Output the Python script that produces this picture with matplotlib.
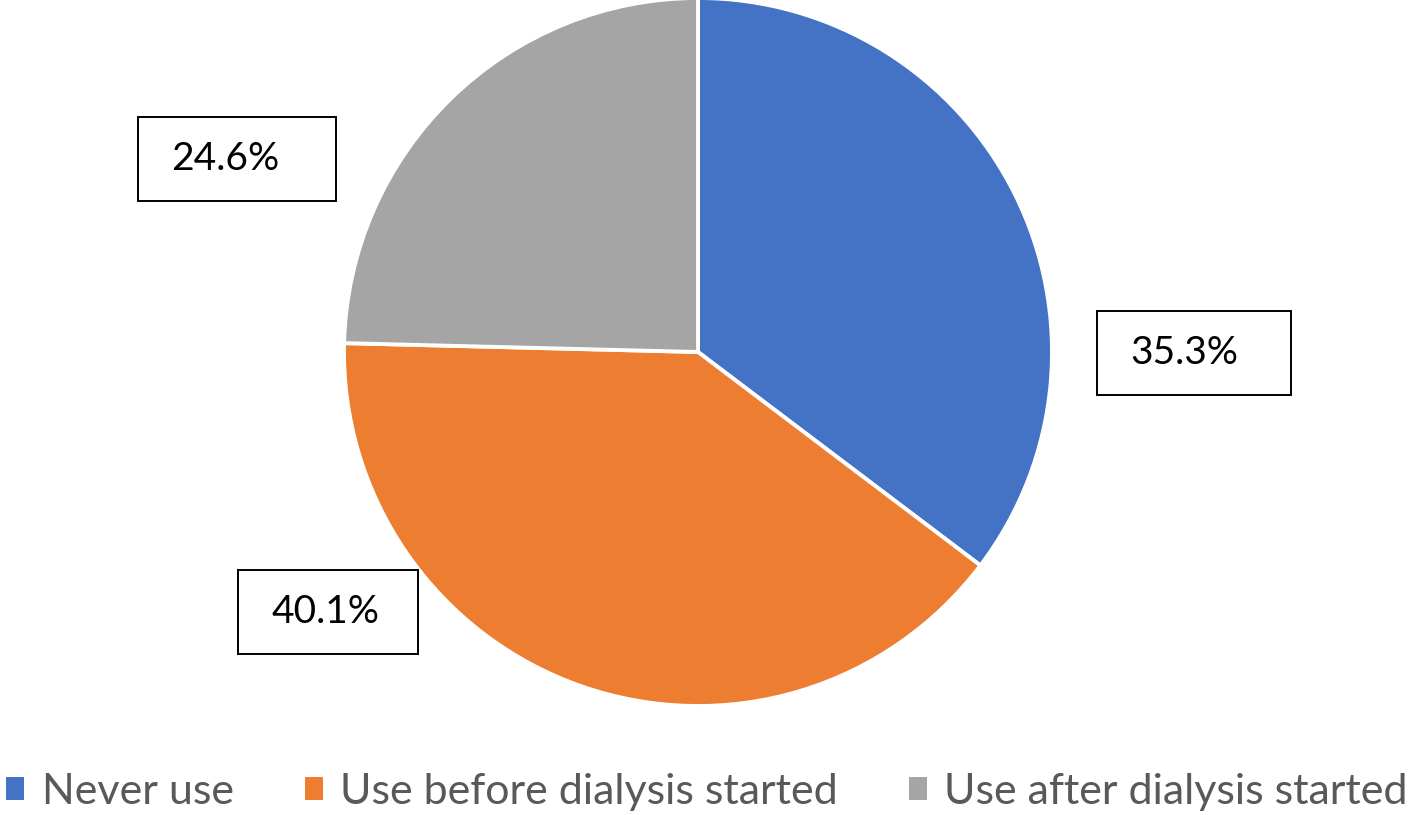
import matplotlib
matplotlib.use("Agg")
import matplotlib.pyplot as plt
from matplotlib.patches import Rectangle

categories = ["Never use", "Use before dialysis started", "Use after dialysis started"]
shares = [35.3, 40.1, 24.6]
colors = ["#4472C4", "#ED7D31", "#A5A5A5"]
label_texts = ["35.3%", "40.1%", "24.6%"]
# box (left, top, width, height) in image pixels
label_boxes = [(1097, 311, 194, 84), (238, 570, 180, 84), (138, 117, 198, 84)]

W, H = 1414, 815
plt.rcParams["font.family"] = ["Lato", "DejaVu Sans"]

fig = plt.figure(figsize=(W / 100, H / 100), dpi=100)
ax = fig.add_axes([0, 0, 1, 1])

wedges, _ = ax.pie(
    shares,
    colors=colors,
    startangle=90,
    counterclock=False,
    center=(698, H - 352),
    radius=354,
    wedgeprops=dict(edgecolor="white", linewidth=2.8),
    frame=True,
)
ax.set_xlim(0, W)
ax.set_ylim(0, H)
ax.set_aspect("equal")
ax.axis("off")

for txt, (l, t, w, h) in zip(label_texts, label_boxes):
    ax.add_patch(Rectangle((l, H - t - h), w, h, facecolor="white",
                           edgecolor="black", linewidth=1.4, zorder=5))
    ax.text(l + 33, H - t - h / 2, txt, ha="left", va="center",
            fontsize=28, color="black", zorder=6)

leg = fig.legend(
    wedges, categories, loc="center", bbox_to_anchor=(0.5, 1 - 792 / H),
    ncol=3, frameon=False, fontsize=31, labelcolor="#595959",
    handlelength=0.42, handleheight=0.42, handletextpad=0.4, columnspacing=1.65,
    borderpad=0, borderaxespad=0,
)
for h in leg.legend_handles:
    h.set_edgecolor("none")

fig.savefig("out.png", dpi=100)
